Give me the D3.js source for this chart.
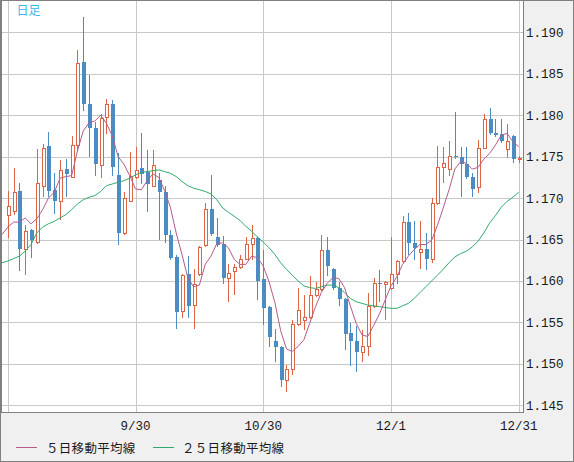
<!DOCTYPE html>
<html><head><meta charset="utf-8">
<script src="https://cdn.jsdelivr.net/npm/d3@7"></script>
<style>
html,body{margin:0;padding:0;background:#f0f0f0;}
svg{display:block;}
</style></head><body>
<svg id="c" width="574" height="462"></svg>
<script>
// Trading days (one candle each)
const dates = [
"2025-08-29",
"2025-09-01","2025-09-02","2025-09-03","2025-09-04","2025-09-05","2025-09-08","2025-09-09","2025-09-10","2025-09-11","2025-09-12","2025-09-15","2025-09-16","2025-09-17","2025-09-18","2025-09-19","2025-09-22","2025-09-23","2025-09-24","2025-09-25","2025-09-26","2025-09-29","2025-09-30",
"2025-10-01","2025-10-02","2025-10-03","2025-10-06","2025-10-07","2025-10-08","2025-10-09","2025-10-10","2025-10-13","2025-10-14","2025-10-15","2025-10-16","2025-10-17","2025-10-20","2025-10-21","2025-10-22","2025-10-23","2025-10-24","2025-10-27","2025-10-28","2025-10-29","2025-10-30","2025-10-31",
"2025-11-03","2025-11-04","2025-11-05","2025-11-06","2025-11-07","2025-11-10","2025-11-11","2025-11-12","2025-11-13","2025-11-14","2025-11-17","2025-11-18","2025-11-19","2025-11-20","2025-11-21","2025-11-24","2025-11-25","2025-11-26","2025-11-27","2025-11-28",
"2025-12-01","2025-12-02","2025-12-03","2025-12-04","2025-12-05","2025-12-08","2025-12-09","2025-12-10","2025-12-11","2025-12-12","2025-12-15","2025-12-16","2025-12-17","2025-12-18","2025-12-19","2025-12-22","2025-12-23","2025-12-24","2025-12-25","2025-12-26","2025-12-29","2025-12-30","2025-12-31"];

const open = [
1.1679,1.1685,1.1709,1.1639,1.1662,1.1647,1.1715,1.1763,1.1710,1.1697,
1.1735,1.1726,1.1764,1.1864,1.1814,1.1785,1.1740,1.1798,1.1814,1.1728,
1.1658,1.1697,1.1725,1.1736,1.1732,1.1715,1.1722,1.1707,1.1656,1.1629,
1.1564,1.1608,1.1571,1.1608,1.1643,1.1687,1.1653,1.1644,1.1604,1.1612,
1.1617,1.1627,1.1644,1.1652,1.1602,1.1568,1.1528,1.1520,1.1480,1.1494,
1.1548,1.1553,1.1556,1.1583,1.1590,1.1637,1.1615,1.1591,1.1578,1.1537,
1.1528,1.1514,1.1521,1.1570,1.1598,1.1596,1.1591,1.1609,1.1624,1.1671,
1.1646,1.1635,1.1639,1.1626,1.1694,1.1738,1.1735,1.1751,1.1749,1.1741,
1.1725,1.1713,1.1761,1.1796,1.1779,1.1777,1.1759,1.1775,1.1747];
const high = [
1.1709,1.1736,1.1718,1.1668,1.1663,1.1759,1.1765,1.1780,1.1730,1.1746,
1.1747,1.1775,1.1879,1.1918,1.1849,1.1792,1.1802,1.1820,1.1818,1.1754,
1.1707,1.1755,1.1762,1.1779,1.1758,1.1758,1.1730,1.1714,1.1662,1.1631,
1.1608,1.1630,1.1615,1.1642,1.1694,1.1728,1.1676,1.1654,1.1621,1.1621,
1.1631,1.1653,1.1668,1.1653,1.1637,1.1570,1.1542,1.1522,1.1499,1.1553,
1.1591,1.1583,1.1606,1.1599,1.1656,1.1653,1.1616,1.1599,1.1580,1.1549,
1.1546,1.1541,1.1585,1.1604,1.1613,1.1600,1.1653,1.1625,1.1678,1.1682,
1.1672,1.1672,1.1658,1.1700,1.1763,1.1762,1.1769,1.1804,1.1762,1.1762,
1.1730,1.1770,1.1802,1.1809,1.1795,1.1796,1.1789,1.1776,1.1751];
const low = [
1.1653,1.1681,1.1613,1.1609,1.1629,1.1646,1.1703,1.1702,1.1682,1.1675,
1.1702,1.1725,1.1758,1.1806,1.1751,1.1728,1.1726,1.1779,1.1728,1.1645,
1.1657,1.1696,1.1724,1.1718,1.1684,1.1714,1.1651,1.1647,1.1627,1.1543,
1.1557,1.1557,1.1543,1.1607,1.1642,1.1656,1.1642,1.1597,1.1576,1.1584,
1.1616,1.1626,1.1626,1.1578,1.1548,1.1521,1.1504,1.1473,1.1467,1.1488,
1.1547,1.1542,1.1555,1.1582,1.1589,1.1607,1.1590,1.1571,1.1518,1.1499,
1.1491,1.1504,1.1511,1.1569,1.1576,1.1554,1.1590,1.1598,1.1623,1.1633,
1.1627,1.1616,1.1615,1.1623,1.1693,1.1720,1.1728,1.1748,1.1703,1.1724,
1.1703,1.1707,1.1760,1.1777,1.1775,1.1768,1.1749,1.1743,1.1744];
const close = [
1.1691,1.1707,1.1639,1.1660,1.1649,1.1718,1.1761,1.1709,1.1697,1.1734,
1.1729,1.1764,1.1863,1.1814,1.1785,1.1741,1.1797,1.1814,1.1738,1.1658,
1.1700,1.1727,1.1734,1.1729,1.1717,1.1740,1.1707,1.1655,1.1628,1.1563,
1.1607,1.1570,1.1596,1.1641,1.1687,1.1657,1.1643,1.1603,1.1610,1.1617,
1.1626,1.1644,1.1652,1.1600,1.1567,1.1532,1.1520,1.1480,1.1494,1.1548,
1.1565,1.1556,1.1583,1.1590,1.1637,1.1618,1.1591,1.1578,1.1536,1.1527,
1.1514,1.1521,1.1570,1.1597,1.1596,1.1599,1.1609,1.1624,1.1671,1.1646,
1.1640,1.1638,1.1626,1.1694,1.1738,1.1742,1.1751,1.1749,1.1741,1.1725,
1.1711,1.1761,1.1796,1.1778,1.1776,1.1769,1.1769,1.1747,1.1748];

// Moving averages; first value belongs to the trading day before the first candle (2025-08-28)
const ma5 = [
1.1656,1.1665,1.1671,1.1671,1.1676,1.1669,1.1675,1.1686,1.1700,1.1707,
1.1724,1.1726,1.1727,1.1757,1.1781,1.1791,1.1793,1.1800,1.1790,1.1775,
1.1750,1.1741,1.1727,1.1711,1.1710,1.1721,1.1729,1.1725,1.1709,1.1689,
1.1658,1.1632,1.1604,1.1593,1.1595,1.1620,1.1630,1.1645,1.1646,1.1640,
1.1626,1.1620,1.1620,1.1630,1.1628,1.1618,1.1599,1.1574,1.1540,1.1518,
1.1515,1.1521,1.1529,1.1549,1.1569,1.1586,1.1597,1.1604,1.1603,1.1592,
1.1570,1.1549,1.1535,1.1533,1.1546,1.1560,1.1577,1.1594,1.1605,1.1620,
1.1630,1.1638,1.1644,1.1644,1.1649,1.1667,1.1688,1.1710,1.1735,1.1744,
1.1742,1.1735,1.1737,1.1747,1.1754,1.1764,1.1776,1.1778,1.1768,1.1762];
const ma25 = [
1.1622,1.1624,1.1627,1.1630,1.1636,1.1644,1.1658,1.1665,1.1669,1.1672,
1.1676,1.1680,1.1686,1.1693,1.1698,1.1701,1.1703,1.1708,1.1715,1.1717,
1.1719,1.1721,1.1724,1.1728,1.1731,1.1732,1.1733,1.1734,1.1732,1.1730,
1.1726,1.1720,1.1715,1.1712,1.1710,1.1708,1.1705,1.1698,1.1688,1.1683,
1.1678,1.1673,1.1666,1.1660,1.1653,1.1647,1.1640,1.1632,1.1622,1.1614,
1.1607,1.1600,1.1594,1.1592,1.1591,1.1593,1.1595,1.1595,1.1592,1.1586,
1.1579,1.1575,1.1573,1.1571,1.1570,1.1569,1.1568,1.1567,1.1567,1.1570,
1.1573,1.1579,1.1586,1.1593,1.1600,1.1607,1.1614,1.1622,1.1629,1.1633,
1.1636,1.1641,1.1648,1.1658,1.1670,1.1679,1.1689,1.1696,1.1701,1.1707];

const yTicks = [1.145,1.150,1.155,1.160,1.165,1.170,1.175,1.180,1.185,1.190];
const xGridDates = ["2025-08-29","2025-09-30","2025-10-30","2025-12-01","2025-12-31"];
const xTickLabels = ["","9/30","10/30","12/1","12/31"];
const legendLabels = ["５日移動平均線","２５日移動平均線"];
const periodLabel = "日足";

const C = {
  bg:"#f0f0f0", plot:"#ffffff", frame:"#808080", grid:"#c9c9c9",
  up:"#dd6444", down:"#4b8cc2", ma5:"#b65a8c", ma25:"#2faa6c",
  text:"#1a1a1a", period:"#3cb6e8"
};

const svg = d3.select("#c");
const x = d3.scaleLinear().domain([0, dates.length-1]).range([7.8, 518.7]);
const y = d3.scaleLinear().domain([1.145, 1.190]).range([405.3, 32.3]);

svg.append("rect").attr("x",0.5).attr("y",0.5).attr("width",573).attr("height",461)
  .attr("fill",C.bg).attr("stroke",C.frame);
svg.append("rect").attr("x",1.5).attr("y",0.5).attr("width",522).attr("height",412)
  .attr("fill",C.plot).attr("stroke",C.frame);

svg.append("defs").append("clipPath").attr("id","clip")
  .append("rect").attr("x",2).attr("y",1).attr("width",521).attr("height",411);

const g = svg.append("g").attr("clip-path","url(#clip)");

// grid
g.selectAll("line.hg").data(yTicks).join("line").attr("class","hg")
  .attr("x1",2).attr("x2",523)
  .attr("y1",d=>Math.round(y(d))+0.5).attr("y2",d=>Math.round(y(d))+0.5)
  .attr("stroke",C.grid).attr("stroke-width",1);
const xIdx = xGridDates.map(d=>dates.indexOf(d));
g.selectAll("line.vg").data(xIdx).join("line").attr("class","vg")
  .attr("y1",1).attr("y2",412)
  .attr("x1",d=>Math.round(x(d))+0.5).attr("x2",d=>Math.round(x(d))+0.5)
  .attr("stroke",C.grid).attr("stroke-width",1);

// candles
const bars = dates.map((d,i)=>({i, o:open[i], h:high[i], l:low[i], c:close[i]}));
const cg = g.append("g").attr("shape-rendering","crispEdges");
bars.forEach(b=>{
  const n = Math.round(x(b.i));
  const up = b.c >= b.o;
  const col = up ? C.up : C.down;
  cg.append("line").attr("x1",n+0.5).attr("x2",n+0.5)
    .attr("y1",Math.round(y(b.h))).attr("y2",Math.round(y(b.l))+1)
    .attr("stroke",col).attr("stroke-width",1);
  const t = Math.round(y(Math.max(b.o,b.c)));
  const bt = Math.round(y(Math.min(b.o,b.c)));
  if (up) {
    cg.append("path")
      .attr("d",`M${n-0.5},${t+0.5}h3v${Math.max(bt-t,0)}h-3Z`)
      .attr("fill","#fff").attr("stroke",col).attr("stroke-width",1);
  } else {
    cg.append("rect").attr("x",n-1).attr("y",t).attr("width",4)
      .attr("height",Math.max(bt-t,1)).attr("fill",col);
  }
});

// moving averages
const line = d3.line().x((d,i)=>x(i-1)).y(d=>y(d));
g.append("path").datum(ma25).attr("d",line).attr("fill","none")
  .attr("stroke",C.ma25).attr("stroke-width",1);
g.append("path").datum(ma5).attr("d",line).attr("fill","none")
  .attr("stroke",C.ma5).attr("stroke-width",1);

// y labels
const fmt = d3.format(".3f");
svg.selectAll("text.yl").data(yTicks).join("text").attr("class","yl")
  .attr("x",526).attr("y",d=>y(d)).attr("dy","0.36em")
  .attr("font-family","'Liberation Mono', 'DejaVu Sans Mono', monospace")
  .attr("font-size",12.5).attr("fill",C.text).text(d=>fmt(d));

// x labels
svg.selectAll("text.xl").data(xIdx.map((d,k)=>({i:d,t:xTickLabels[k]})).filter(d=>d.t))
  .join("text").attr("class","xl")
  .attr("x",d=>x(d.i)).attr("y",429.5).attr("text-anchor","middle")
  .attr("font-family","'Liberation Mono', 'DejaVu Sans Mono', monospace")
  .attr("font-size",12.5).attr("fill",C.text).text(d=>d.t);

// period label
svg.append("text").attr("x",16.5).attr("y",14.5)
  .attr("font-family","'Noto Sans CJK JP', sans-serif").attr("font-size",12)
  .attr("fill",C.period).text(periodLabel);

// legend
const legend = [
  {label:legendLabels[0], color:C.ma5, x1:16, x2:37, tx:46},
  {label:legendLabels[1], color:C.ma25, x1:153, x2:174, tx:182}
];
legend.forEach(l=>{
  svg.append("line").attr("x1",l.x1).attr("x2",l.x2).attr("y1",447.5).attr("y2",447.5)
    .attr("stroke",l.color).attr("stroke-width",1);
  svg.append("text").attr("x",l.tx).attr("y",453)
    .attr("font-family","'Noto Sans CJK JP', sans-serif").attr("font-size",12.5)
    .attr("letter-spacing","0.3px").attr("fill",C.text).text(l.label);
});
</script>
</body></html>
